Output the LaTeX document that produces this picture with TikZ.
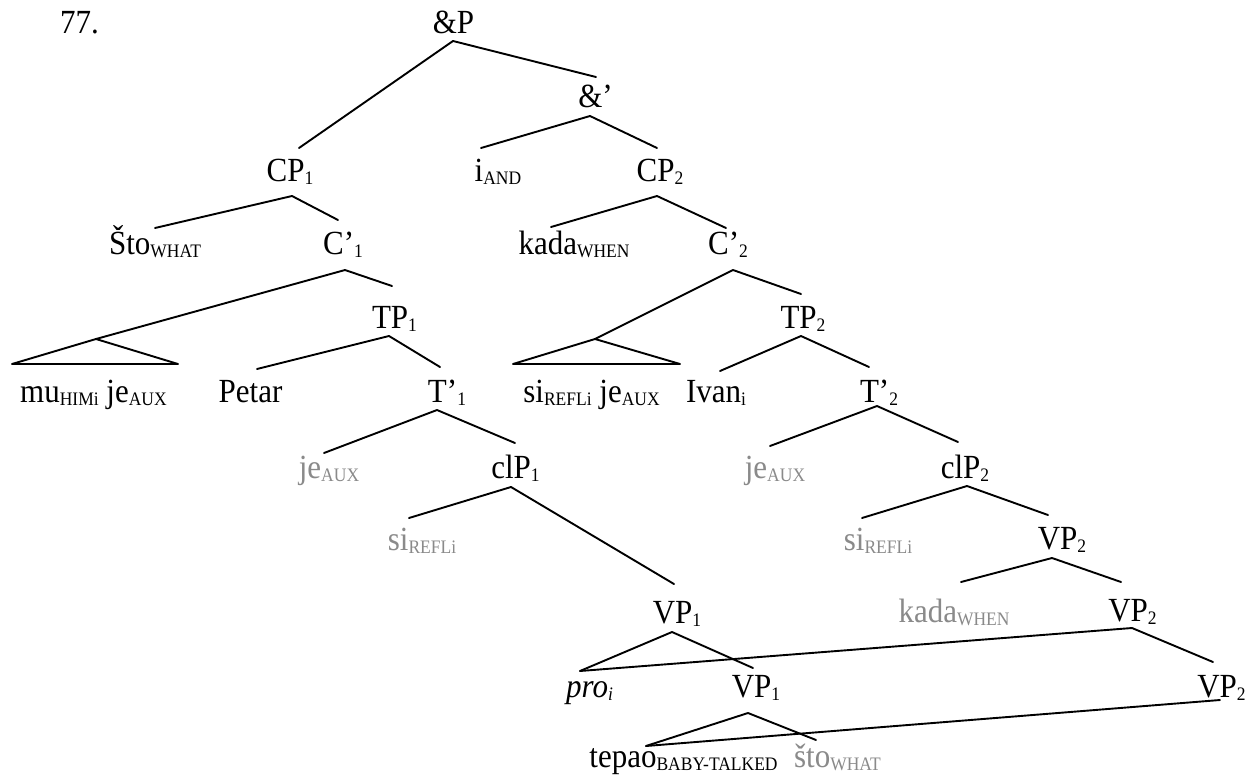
\documentclass[tikz,border=0pt]{standalone}
\usepackage{fontspec}
\usepackage{graphicx}
\setmainfont{Liberation Serif}
\definecolor{ghost}{RGB}{138,138,138}
\newcommand\dn[1]{\raisebox{-3pt}{\fontsize{17.5}{18}\selectfont #1}}
\newcommand\V[1]{\scalebox{1}[1.09]{#1}}
\begin{document}
\begin{tikzpicture}[x=1pt,y=-1pt,
  lbl/.style={font=\fontsize{31}{37}\selectfont, inner sep=0pt, anchor=base},
  grey/.style={lbl, text=ghost},
  edge/.style={line width=1.9pt, line cap=round, line join=round}]
\fill[white] (0,0) rectangle (1254,777);
\useasboundingbox (0,0) rectangle (1254,777);

% ---- text nodes ----
\node[lbl, anchor=base west] (num) at (60,33) {\V{77.}};
\node[lbl] (andP) at (453.5,33) {\V{\&P}};
\node[lbl] (andB) at (595.5,107) {\V{\&’}};
\node[lbl] (cp1) at (290,181) {\V{CP\dn{1}}};
\node[lbl] (iand) at (498,181) {\V{i\dn{AND}}};
\node[lbl] (cp2) at (660,181) {\V{CP\dn{2}}};
\node[lbl] (sto) at (155,254) {\V{Što\dn{WHAT}}};
\node[lbl] (c1) at (343,254) {\V{C’\dn{1}}};
\node[lbl] (kada) at (574,254) {\V{kada\dn{WHEN}}};
\node[lbl] (c2) at (728,254) {\V{C’\dn{2}}};
\node[lbl] (tp1) at (394.5,328) {\V{TP\dn{1}}};
\node[lbl] (tp2) at (803,328) {\V{TP\dn{2}}};
\node[lbl] (mu) at (93.5,402) {\V{mu\dn{HIMi} je\dn{AUX}}};
\node[lbl] (petar) at (250.5,402) {\V{Petar}};
\node[lbl] (t1) at (447,402) {\V{T’\dn{1}}};
\node[lbl] (si) at (591.5,402) {\V{si\dn{REFLi} je\dn{AUX}}};
\node[lbl] (ivan) at (716,402) {\V{Ivan\dn{i}}};
\node[lbl] (t2) at (879,402) {\V{T’\dn{2}}};
\node[grey] (je1) at (329,478) {\V{je\dn{AUX}}};
\node[lbl] (clp1) at (515.5,478) {\V{clP\dn{1}}};
\node[grey] (je2) at (775,478) {\V{je\dn{AUX}}};
\node[lbl] (clp2) at (965,478) {\V{clP\dn{2}}};
\node[grey] (si1) at (422,550) {\V{si\dn{REFLi}}};
\node[grey] (si2) at (878,550) {\V{si\dn{REFLi}}};
\node[lbl] (vp2a) at (1062,549) {\V{VP\dn{2}}};
\node[lbl] (vp1a) at (677,623) {\V{VP\dn{1}}};
\node[grey] (kada2) at (954,622) {\V{kada\dn{WHEN}}};
\node[lbl] (vp2b) at (1132.5,621) {\V{VP\dn{2}}};
\node[lbl] (pro) at (589.5,697) {\V{\textit{pro}\dn{\textit{i}}}};
\node[lbl] (vp1b) at (756,697) {\V{VP\dn{1}}};
\node[lbl] (vp2c) at (1221.5,697) {\V{VP\dn{2}}};
\node[lbl] (tepao) at (683.5,767) {\V{tepao\dn{BABY-TALKED}}};
\node[grey] (sto2) at (837.5,767) {\V{što\dn{WHAT}}};

% ---- connector end points ----
\coordinate (andP-b) at (453,41);
\coordinate (cp1-t) at (299,148);
\coordinate (andB-t) at (596,77);
\coordinate (andB-b) at (590,116);
\coordinate (iand-t) at (481,148);
\coordinate (cp2-t) at (657,148);
\coordinate (cp1-b) at (292,196);
\coordinate (sto-t) at (155,228);
\coordinate (c1-t) at (338,220);
\coordinate (cp2-b) at (657,196);
\coordinate (kada-t) at (551,227);
\coordinate (c2-t) at (726,228);
\coordinate (c1-b) at (345,270);
\coordinate (mu-apex) at (96,339);
\coordinate (mu-l) at (12,364);
\coordinate (mu-r) at (178,364);
\coordinate (tp1-t) at (392,286);
\coordinate (c2-b) at (733,270);
\coordinate (si-apex) at (595,339);
\coordinate (si-l) at (513,364);
\coordinate (si-r) at (680,364);
\coordinate (tp2-t) at (801,294);
\coordinate (tp1-b) at (389,336);
\coordinate (petar-t) at (257,369);
\coordinate (t1-t) at (440,367);
\coordinate (tp2-b) at (801,336);
\coordinate (ivan-t) at (720,371);
\coordinate (t2-t) at (869,367);
\coordinate (t1-b) at (437,410);
\coordinate (je1-t) at (324,453);
\coordinate (clp1-t) at (515,443);
\coordinate (t2-b) at (877,406);
\coordinate (je2-t) at (770,446);
\coordinate (clp2-t) at (958,442);
\coordinate (clp1-b) at (511,487);
\coordinate (si1-t) at (409,518);
\coordinate (vp1a-t) at (674,584);
\coordinate (clp2-b) at (967,486);
\coordinate (si2-t) at (862,518);
\coordinate (vp2a-t) at (1048,515);
\coordinate (vp2a-b) at (1052,558);
\coordinate (kada2-t) at (961,582);
\coordinate (vp2b-t) at (1121,582);
\coordinate (vp1a-b) at (672,632);
\coordinate (pro-t) at (580,671);
\coordinate (vp1b-t) at (753,668);
\coordinate (vp2b-b) at (1132,628);
\coordinate (vp2c-t) at (1213,662);
\coordinate (vp1b-b) at (748,713);
\coordinate (tepao-t) at (646,746);
\coordinate (sto2-t) at (816,740);
\coordinate (vp2c-b) at (1220,700);

% ---- connectors ----
\draw[edge] (cp1-t) -- (andP-b) -- (andB-t);
\draw[edge] (iand-t) -- (andB-b) -- (cp2-t);
\draw[edge] (sto-t) -- (cp1-b) -- (c1-t);
\draw[edge] (kada-t) -- (cp2-b) -- (c2-t);
\draw[edge] (mu-apex) -- (c1-b) -- (tp1-t);
\draw[edge] (mu-apex) -- (mu-l) -- (mu-r) -- cycle;
\draw[edge] (si-apex) -- (c2-b) -- (tp2-t);
\draw[edge] (si-apex) -- (si-l) -- (si-r) -- cycle;
\draw[edge] (petar-t) -- (tp1-b) -- (t1-t);
\draw[edge] (ivan-t) -- (tp2-b) -- (t2-t);
\draw[edge] (je1-t) -- (t1-b) -- (clp1-t);
\draw[edge] (je2-t) -- (t2-b) -- (clp2-t);
\draw[edge] (si1-t) -- (clp1-b) -- (vp1a-t);
\draw[edge] (si2-t) -- (clp2-b) -- (vp2a-t);
\draw[edge] (kada2-t) -- (vp2a-b) -- (vp2b-t);
\draw[edge] (pro-t) -- (vp1a-b) -- (vp1b-t);
\draw[edge] (pro-t) -- (vp2b-b) -- (vp2c-t);
\draw[edge] (tepao-t) -- (vp1b-b) -- (sto2-t);
\draw[edge] (tepao-t) -- (vp2c-b);
\end{tikzpicture}
\end{document}
